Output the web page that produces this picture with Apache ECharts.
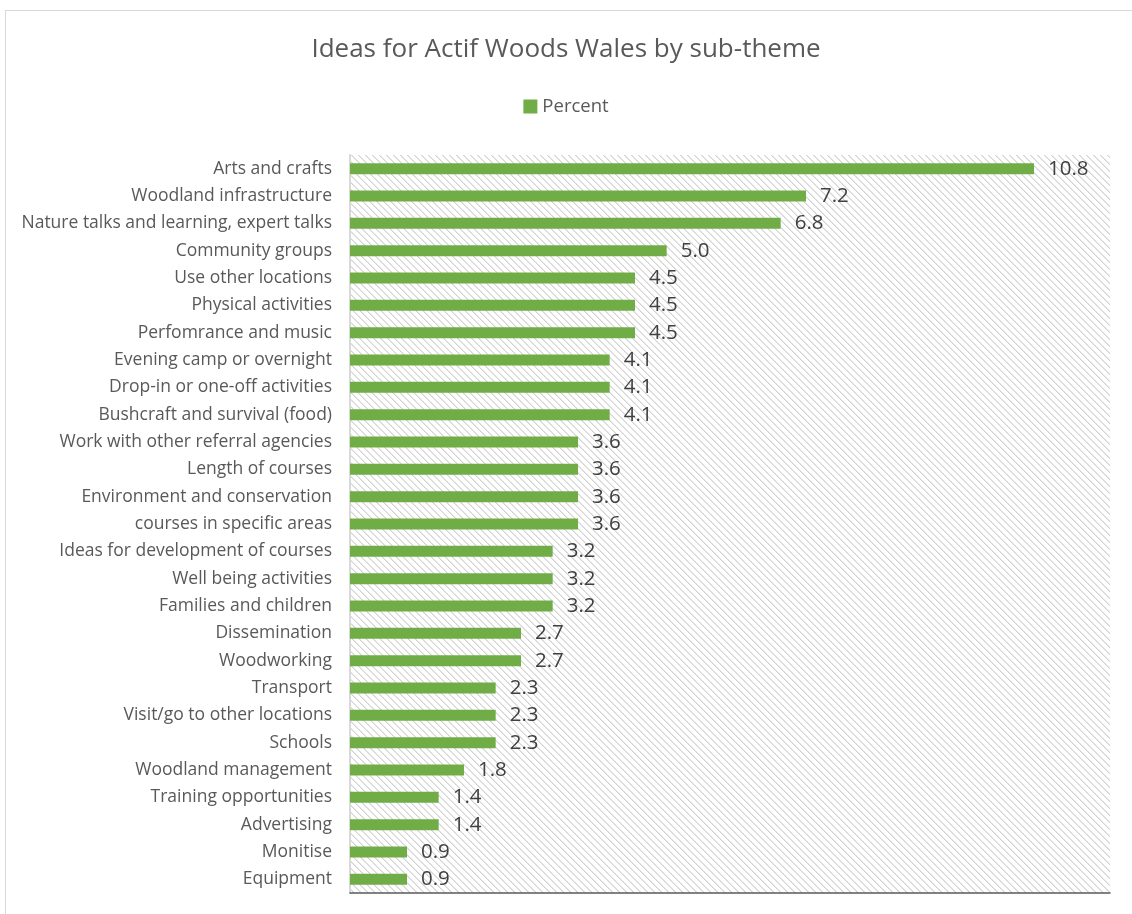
<!DOCTYPE html>
<html>
<head>
<meta charset="utf-8">
<script src="https://cdn.jsdelivr.net/npm/echarts@6/dist/echarts.min.js"></script>
<style>
html,body{margin:0;padding:0;background:#fff;}
#frame{position:absolute;left:5px;top:10px;width:1140px;height:920px;border:1.5px solid #d9d9d9;box-sizing:border-box;}
#chart{position:absolute;left:0;top:0;width:1132px;height:914px;}
</style>
</head>
<body>
<div id="frame"></div>
<div id="chart"></div>
<script>
const categories = [
  "Arts and crafts",
  "Woodland infrastructure",
  "Nature talks and learning, expert talks",
  "Community groups",
  "Use other locations",
  "Physical activities",
  "Perfomrance and music",
  "Evening camp or overnight",
  "Drop-in or one-off activities",
  "Bushcraft and survival (food)",
  "Work with other referral agencies",
  "Length of courses",
  "Environment and conservation",
  "courses in specific areas",
  "Ideas for development of courses",
  "Well being activities",
  "Families and children",
  "Dissemination",
  "Woodworking",
  "Transport",
  "Visit/go to other locations",
  "Schools",
  "Woodland management",
  "Training opportunities",
  "Advertising",
  "Monitise",
  "Equipment"
];
const percentValues = [10.8, 7.2, 6.8, 5.0, 4.5, 4.5, 4.5, 4.1, 4.1, 4.1, 3.6, 3.6, 3.6, 3.6, 3.2, 3.2, 3.2, 2.7, 2.7, 2.3, 2.3, 2.3, 1.8, 1.4, 1.4, 0.9, 0.9];
const seriesName = "Percent";
const chartTitle = "Ideas for Actif Woods Wales by sub-theme";

// hatch pattern for plot background
const tile = document.createElement('canvas');
tile.width = 7; tile.height = 7;
const tc = tile.getContext('2d');
tc.fillStyle = '#ffffff';
tc.fillRect(0, 0, 7, 7);
for (let i = 0; i < 7; i++) {
  tc.fillStyle = '#d4d4d4';
  tc.fillRect(i, i, 1, 1);
  tc.fillStyle = '#e6e6e6';
  tc.fillRect((i + 1) % 7, i, 1, 1);
}

const FONT = '"Open Sans", Lato, sans-serif';
const chart = echarts.init(document.getElementById('chart'), null, {renderer: 'canvas'});
chart.setOption({
  animation: false,
  backgroundColor: 'transparent',
  title: {
    text: chartTitle,
    left: 'center',
    top: 32,
    textStyle: {fontFamily: FONT, fontSize: 26, fontWeight: 'normal', color: '#595959'}
  },
  legend: {
    data: [seriesName],
    top: 92,
    left: 'center',
    itemWidth: 14,
    itemHeight: 14,
    itemGap: 8,
    icon: 'rect',
    textStyle: {fontFamily: FONT, fontSize: 18.5, color: '#595959'}
  },
  grid: {
    left: 350,
    right: 22,
    top: 155,
    bottom: 21,
    show: true,
    borderWidth: 0,
    backgroundColor: {image: tile, repeat: 'repeat'}
  },
  xAxis: {
    type: 'value',
    min: 0,
    max: 12,
    interval: 2,
    axisLine: {show: true, onZero: false, lineStyle: {color: '#595959', width: 1.5}},
    axisTick: {show: false},
    axisLabel: {show: false},
    splitLine: {show: false}
  },
  yAxis: {
    type: 'category',
    inverse: true,
    data: categories,
    axisLine: {show: true, lineStyle: {color: '#d9d9d9', width: 2}},
    axisTick: {show: false},
    axisLabel: {fontFamily: FONT, fontSize: 17.5, color: '#595959', margin: 18}
  },
  series: [{
    name: seriesName,
    type: 'bar',
    data: percentValues,
    barWidth: '40%',
    itemStyle: {color: '#70ad47'},
    label: {
      show: true,
      position: 'right',
      distance: 14,
      fontFamily: FONT,
      fontSize: 20.5,
      color: '#404040',
      formatter: p => p.value.toFixed(1)
    }
  }]
});
</script>
</body>
</html>
